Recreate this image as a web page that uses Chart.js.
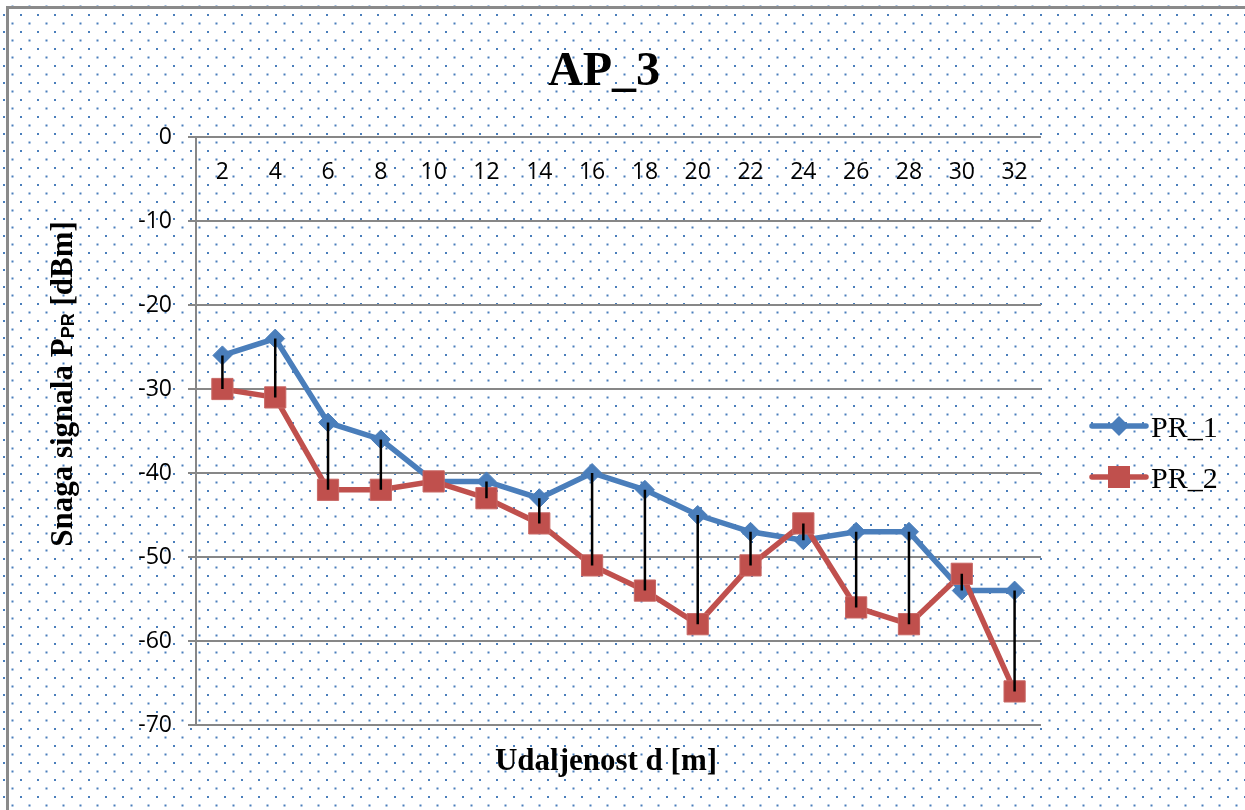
<!DOCTYPE html>
<html>
<head>
<meta charset="utf-8">
<script src="https://cdn.jsdelivr.net/npm/chart.js@4.4.1/dist/chart.umd.min.js"></script>
<style>
    html, body { margin: 0; padding: 0; background: #fff; }
    #wrap { width: 1245px; height: 810px; }
</style>
</head>
<body>
<div id="wrap"><canvas id="chart" width="1245" height="810"></canvas></div>
<script>
// Data
const distances = ['2', '4', '6', '8', '10', '12', '14', '16', '18', '20', '22', '24', '26', '28', '30', '32'];
const pr1 = [-26, -24, -34, -36, -41, -41, -43, -40, -42, -45, -47, -48, -47, -47, -54, -54];
const pr2 = [-30, -31, -42, -42, -41, -43, -46, -51, -54, -58, -51, -46, -56, -58, -52, -66];
const yMin = -70;
const yMax = 0;
const yStep = 10;

const BLUE = '#4a7ebb';
const RED = '#c0504d';
const GRID = '#878787';
const SERIF = '"Liberation Serif", "DejaVu Serif", serif';
const SANS = '"Open Sans", Lato, sans-serif';

// dotted background tile
function makeDots(ctx) {
    const tile = document.createElement('canvas');
    tile.width = 17;
    tile.height = 17;
    const t = tile.getContext('2d');
    t.fillStyle = '#4a7ebb';
    t.fillRect(3, 14, 2, 2);
    t.fillRect(11.5, 5.5, 2, 2);
    return ctx.createPattern(tile, 'repeat');
}

const backgroundPlugin = {
    id: 'background',
    beforeDraw(chart) {
        const { ctx, width, height } = chart;
        ctx.save();
        ctx.fillStyle = '#fff';
        ctx.fillRect(0, 0, width, height);
        ctx.fillStyle = makeDots(ctx);
        ctx.fillRect(0, 0, width, height);
        // frame (left + top only visible)
        ctx.strokeStyle = '#8a8a8a';
        ctx.lineWidth = 3;
        ctx.beginPath();
        ctx.moveTo(7.5, height);
        ctx.lineTo(7.5, 7.5);
        ctx.lineTo(width, 7.5);
        ctx.stroke();
        ctx.restore();
    }
};

// high-low lines between the two series
const hiLowPlugin = {
    id: 'hiLow',
    afterDatasetsDraw(chart) {
        const a = chart.getDatasetMeta(0).data;
        const b = chart.getDatasetMeta(1).data;
        const ctx = chart.ctx;
        ctx.save();
        ctx.strokeStyle = '#000';
        ctx.lineWidth = 2.5;
        ctx.beginPath();
        for (let i = 0; i < a.length; i++) {
            ctx.moveTo(a[i].x, a[i].y);
            ctx.lineTo(b[i].x, b[i].y);
        }
        ctx.stroke();
        ctx.restore();
    }
};

const textPlugin = {
    id: 'texts',
    afterDraw(chart) {
        const ctx = chart.ctx;
        const x = chart.scales.x;
        ctx.save();
        ctx.fillStyle = '#000';

        // category labels sit just under the 0 line
        ctx.font = '23px ' + SANS;
        ctx.textAlign = 'center';
        ctx.textBaseline = 'middle';
        distances.forEach((d, i) => {
            ctx.fillText(d, x.getPixelForValue(i), 172);
        });

        // title
        ctx.textBaseline = 'alphabetic';
        ctx.font = 'bold 48px ' + SERIF;
        ctx.fillText('AP_3', 604, 85);

        // x title
        ctx.font = 'bold 31px ' + SERIF;
        ctx.fillText('Udaljenost d [m]', 606, 770);

        // y title with subscript
        const partA = 'Snaga signala P';
        const partB = 'PR';
        const partC = ' [dBm]';
        const fBig = 'bold 31px ' + SERIF;
        const fSub = 'bold 18px "Liberation Sans", Arial, sans-serif';
        ctx.font = fBig;
        const wA = ctx.measureText(partA).width;
        const wC = ctx.measureText(partC).width;
        ctx.font = fSub;
        const wB = ctx.measureText(partB).width;
        const total = wA + wB + wC;
        ctx.translate(72, 384);
        ctx.rotate(-Math.PI / 2);
        ctx.textAlign = 'left';
        let cx = -total / 2;
        ctx.font = fBig;
        ctx.fillText(partA, cx, 0);
        cx += wA;
        ctx.font = fSub;
        ctx.fillText(partB, cx, 2);
        cx += wB;
        ctx.font = fBig;
        ctx.fillText(partC, cx, 0);
        ctx.setTransform(1, 0, 0, 1, 0, 0);

        // legend
        const items = [
            { label: chart.data.datasets[0].label, color: BLUE, y: 426, shape: 'diamond' },
            { label: chart.data.datasets[1].label, color: RED, y: 477, shape: 'square' }
        ];
        items.forEach(it => {
            ctx.strokeStyle = it.color;
            ctx.fillStyle = it.color;
            ctx.lineWidth = 5.5;
            ctx.lineCap = 'round';
            ctx.beginPath();
            ctx.moveTo(1092, it.y);
            ctx.lineTo(1146, it.y);
            ctx.stroke();
            ctx.beginPath();
            if (it.shape === 'diamond') {
                ctx.moveTo(1119 - 10, it.y);
                ctx.lineTo(1119, it.y - 10);
                ctx.lineTo(1119 + 10, it.y);
                ctx.lineTo(1119, it.y + 10);
                ctx.closePath();
            } else {
                ctx.rect(1108, it.y - 11, 22, 22);
            }
            ctx.fill();
            ctx.fillStyle = '#000';
            ctx.font = '30px ' + SERIF;
            ctx.textAlign = 'left';
            ctx.fillText(it.label, 1151, it.y + 11);
        });
        ctx.restore();
    }
};

new Chart(document.getElementById('chart'), {
    type: 'line',
    data: {
        labels: distances,
        datasets: [
            {
                label: 'PR_1',
                data: pr1,
                borderColor: BLUE,
                backgroundColor: BLUE,
                borderWidth: 5.5,
                pointStyle: 'rectRot',
                pointRadius: 9.5,
                pointBorderWidth: 1,
                tension: 0,
                order: 1
            },
            {
                label: 'PR_2',
                data: pr2,
                borderColor: RED,
                backgroundColor: RED,
                borderWidth: 5.5,
                pointStyle: 'rect',
                pointRadius: 15,
                pointBorderWidth: 1,
                pointBorderColor: '#c86865',
                tension: 0,
                order: 0
            }
        ]
    },
    options: {
        responsive: false,
        animation: false,
        devicePixelRatio: 1,
        events: [],
        layout: {
            padding: { left: 0, top: 137, right: 204, bottom: 85 }
        },
        plugins: {
            legend: { display: false },
            title: { display: false },
            tooltip: { enabled: false }
        },
        scales: {
            x: {
                type: 'category',
                display: false,
                offset: true
            },
            y: {
                min: yMin,
                max: yMax,
                afterFit(scale) { scale.width = 196; },
                ticks: {
                    stepSize: yStep,
                    color: '#000',
                    padding: 16,
                    font: { family: 'Open Sans', size: 23 }
                },
                grid: {
                    color: GRID,
                    lineWidth: 2,
                    drawTicks: true,
                    tickLength: 8
                },
                border: {
                    display: true,
                    color: GRID,
                    width: 2
                }
            }
        }
    },
    plugins: [backgroundPlugin, hiLowPlugin, textPlugin]
});
</script>
</body>
</html>
